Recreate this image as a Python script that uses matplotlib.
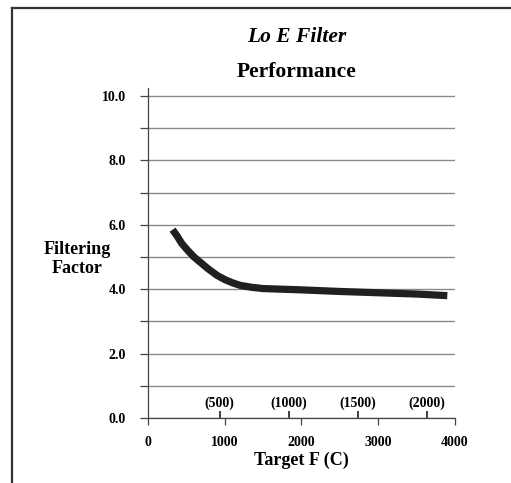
import matplotlib
matplotlib.use("Agg")
import matplotlib.pyplot as plt
from matplotlib.lines import Line2D

plt.rcParams['font.family'] = ['Liberation Serif', 'DejaVu Serif']
plt.rcParams['font.weight'] = 'bold'

# curve
target_f = [320, 380, 440, 520, 600, 700, 780, 900, 1000, 1100, 1200, 1350, 1500,
            2000, 2500, 3000, 3500, 3900]
factor = [5.85, 5.65, 5.42, 5.2, 5.0, 4.8, 4.64, 4.43, 4.3, 4.2, 4.12, 4.06, 4.02,
          3.98, 3.93, 3.89, 3.85, 3.8]

y_ticks = [0, 1, 2, 3, 4, 5, 6, 7, 8, 9, 10]
y_labels = ['0.0', '', '2.0', '', '4.0', '', '6.0', '', '8.0', '', '10.0']
x_ticks = [0, 1000, 2000, 3000, 4000]
c_ticks = [500, 1000, 1500, 2000]


def f2c(f):
    return (f - 32) * 5.0 / 9.0


def c2f(c):
    return c * 9.0 / 5.0 + 32


fig = plt.figure(figsize=(5.11, 4.83), dpi=100)
ax = fig.add_axes([0.2896, 0.1346, 0.6008, 0.6832])

ax.plot(target_f, factor, color='#231f20', linewidth=5.2, solid_capstyle='butt',
        solid_joinstyle='round')

ax.set_xlim(0, 4000)
ax.set_ylim(0, 10.25)
ax.set_yticks(y_ticks)
ax.set_yticklabels(y_labels)
ax.set_xticks(x_ticks)
ax.grid(axis='y', color='#8a8a8a', linewidth=1.0)
ax.set_axisbelow(True)
for s in ['top', 'right']:
    ax.spines[s].set_visible(False)
for s in ['left', 'bottom']:
    ax.spines[s].set_color('#444444')
    ax.spines[s].set_linewidth(0.9)
ax.tick_params(axis='y', length=6, width=0.9, color='#444444', labelsize=10, pad=10)
ax.tick_params(axis='x', length=5, width=0.9, color='#444444', labelsize=10, pad=8)
for lab in ax.get_xticklabels() + ax.get_yticklabels():
    lab.set_fontweight('bold')

# celsius ticks on the x axis, pointing up
sec = ax.secondary_xaxis(0.0, functions=(f2c, c2f))
sec.set_alignment('top')
sec.set_xticks(c_ticks)
sec.set_xticklabels(['(%d)' % c for c in c_ticks])
sec.spines['top'].set_visible(False)
sec.spines['bottom'].set_visible(False)
sec.tick_params(axis='x', length=5, width=1.2, color='#231f20', labelsize=10, pad=0.5)
for lab in sec.get_xticklabels():
    lab.set_fontweight('bold')

ax.set_xlabel('Target F (C)', fontsize=13, fontweight='bold', labelpad=2)

fig.text(0.151, 0.464, 'Filtering\nFactor', ha='center', va='center',
         fontsize=13, fontweight='bold', linespacing=1.15)

fig.text(0.58, 0.913, 'Lo E Filter', ha='center', va='baseline',
         fontsize=15.5, fontweight='bold', style='italic')
fig.text(0.58, 0.84, 'Performance', ha='center', va='baseline',
         fontsize=15.5, fontweight='bold')

# frame lines (top and left only)
fig.add_artist(Line2D([0.0235, 1.0], [0.983, 0.983], transform=fig.transFigure,
                      color='#333333', linewidth=1.6))
fig.add_artist(Line2D([0.0235, 0.0235], [0.0, 0.983], transform=fig.transFigure,
                      color='#333333', linewidth=1.6))

fig.savefig('out.png', dpi=100)
